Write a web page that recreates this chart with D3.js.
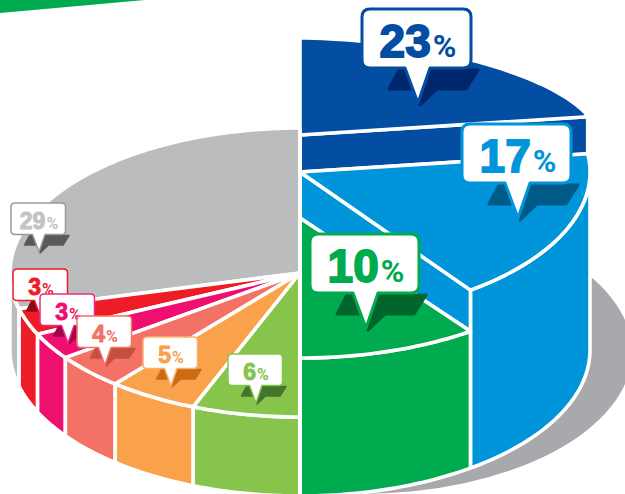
<!DOCTYPE html>
<html>
<head>
<meta charset="utf-8">
<style>
  html, body { margin: 0; padding: 0; background: #fff; }
  svg { display: block; }
</style>
<script src="https://cdn.jsdelivr.net/npm/d3@7"></script>
</head>
<body>
<div id="chart"></div>
<script>
// clockwise from 12 o'clock
const categories = ["navy", "blue", "green", "lime", "orange", "coral", "magenta", "red", "grey"];
const values = [23, 17, 10, 6, 5, 4, 3, 3, 29];

// styles, one per slice
const colors = ["#034ea2", "#0095da", "#00aa4e", "#86c44c", "#faa24b", "#f47265", "#ee0f6f", "#ee1c26", "#bbbcbe"];
const shadows = ["#00266b", "#005a87", "#00662c", "#44752a", "#cc6b11", "#c64f40", "#a3004e", "#8b0a13", "#58595b"];
const borders = ["#034ea2", "#0095da", "#00aa4e", "#86c44c", "#fbb06a", "#f47265", "#ee2a85", "#ee1c26", "#98999b"];
// hub height of each slice, the slices step down clockwise
const hubY = [135, 172, 218, 273, 273, 273, 273, 273, 273];
const frontRy = [146, 146, 140, 144, 144, 144, 144, 144, 145];
// where each callout's pointer lands, and how big it is
const tipX = [418, 518, 366, 256, 171, 105, 68, 41, 39];
const tipY = [103, 218, 328, 403, 386, 365, 343, 318, 252];
const tipScale = [1, 1, 1, 0.5, 0.5, 0.5, 0.5, 0.5, 0.5];

const width = 625, height = 494;
const cx = 300, R = 290;
const baseY = 350, baseRy = 146;
const gap = 3.6;

const svg = d3.select("#chart").append("svg")
    .attr("width", width)
    .attr("height", height);

const line = d3.line();
const pie = d3.pie().sort(null).value(d => d)(values);

function rim(a, y0, ry) {
  return [cx + R * Math.sin(a), y0 - ry * Math.cos(a)];
}

function arcPoints(a0, a1, y0, ry) {
  const n = Math.max(2, Math.ceil(Math.abs(a1 - a0) * 40));
  return d3.range(n + 1).map(i => rim(a0 + (a1 - a0) * i / n, y0, ry));
}

function poly(pts, fill) {
  return svg.append("path")
    .attr("d", line(pts) + "Z")
    .attr("fill", fill)
    .attr("stroke", "#fff")
    .attr("stroke-width", gap)
    .attr("stroke-linejoin", "round");
}

// back of the raised navy slice reads flatter than an ellipse
function flatRim(a) {
  const t = a * 0.9, e = 2 / 1.8;
  return [cx + 297 * Math.pow(Math.sin(t), e), hubY[0] - 97 * Math.pow(Math.cos(t), e)];
}

// green strip cut off by the page corner
svg.append("path")
  .attr("d", line([[0, 0], [145, 0], [0, 13]]) + "Z")
  .attr("fill", "#00aa4e");

// drop shadow behind the pie
svg.append("ellipse")
  .attr("cx", 360).attr("cy", 352)
  .attr("rx", 272).attr("ry", 142)
  .attr("fill", "#a7a9ac");

// grey wall and the low slices on the left
const leftOrder = [8, 7, 6, 5, 4, 3];
const quarter = Math.PI / 2;

poly(arcPoints(pie[8].startAngle, 3 * quarter, hubY[8], frontRy[8])
  .concat(arcPoints(3 * quarter, pie[8].startAngle, baseY, baseRy)), colors[8]);
leftOrder.slice(1).forEach(i => {
  const p = pie[i];
  poly(arcPoints(p.startAngle, p.endAngle, hubY[i], frontRy[i])
    .concat(arcPoints(p.endAngle, p.startAngle, baseY, baseRy)), colors[i]);
});
// grey top: front part to 9 o'clock, then the back half
poly([[cx, hubY[8]]]
  .concat(arcPoints(pie[8].startAngle, pie[8].endAngle, hubY[8], frontRy[8])), colors[8]);
leftOrder.slice(1).forEach(i => {
  const p = pie[i];
  poly([[cx, hubY[i]]].concat(arcPoints(p.startAngle, p.endAngle, hubY[i], frontRy[i])), colors[i]);
});

// navy: cut face, then top
const navyEnd = pie[0].endAngle;
const navyTip = rim(navyEnd, hubY[0], frontRy[0]);
poly([[cx, hubY[0]], navyTip, rim(navyEnd, hubY[1], frontRy[1]), [cx, hubY[1]]], colors[0]);
poly([[cx, hubY[0]]].concat(d3.range(41).map(i => flatRim(navyEnd * i / 40)), [navyTip]), colors[0]);

// blue: wall, cut face, top
const blueEnd = pie[1].endAngle;
poly(arcPoints(quarter, blueEnd, hubY[1], frontRy[1])
  .concat(arcPoints(blueEnd, quarter, baseY, baseRy)), colors[1]);
poly([[cx, hubY[1]], rim(blueEnd, hubY[1], frontRy[1]), rim(blueEnd, hubY[2], frontRy[2]), [cx, hubY[2]]], colors[1]);
poly([[cx, hubY[1]]].concat(arcPoints(pie[1].startAngle, blueEnd, hubY[1], frontRy[1])), colors[1]);

// green: wall, top
poly(arcPoints(pie[2].startAngle, pie[2].endAngle, hubY[2], frontRy[2])
  .concat(arcPoints(pie[2].endAngle, pie[2].startAngle, baseY, baseRy)), colors[2]);
poly([[cx, hubY[2]]].concat(arcPoints(pie[2].startAngle, pie[2].endAngle, hubY[2], frontRy[2])), colors[2]);

// white seam between the left and right halves
svg.append("line")
  .attr("x1", cx).attr("x2", cx)
  .attr("y1", hubY[8] - 145).attr("y2", height)
  .attr("stroke", "#fff")
  .attr("stroke-width", 4);

// callouts
function bubblePath(t) {
  const l = -56, r = 53, b = -35, c = 8;
  return "M" + (l + c) + "," + t +
    "L" + (r - c) + "," + t + "Q" + r + "," + t + " " + r + "," + (t + c) +
    "L" + r + "," + (b - c) + "Q" + r + "," + b + " " + (r - c) + "," + b +
    "L12," + b + "L0,0L-13," + b +
    "L" + (l + c) + "," + b + "Q" + l + "," + b + " " + l + "," + (b - c) +
    "L" + l + "," + (t + c) + "Q" + l + "," + t + " " + (l + c) + "," + t + "Z";
}

const shadowPath = "M-19,-33L60,-33L48,-14L19,-14L2,2L4,-14L-29,-14Z";

const order = [8, 7, 6, 5, 4, 3, 2, 1, 0];
order.forEach(i => {
  const g = svg.append("g")
    .attr("transform", "translate(" + tipX[i] + "," + tipY[i] + ") scale(" + tipScale[i] + ")");

  g.append("path")
    .attr("d", shadowPath)
    .attr("fill", shadows[i])
    .attr("stroke", shadows[i])
    .attr("stroke-width", 3)
    .attr("stroke-linejoin", "round");

  g.append("path")
    .attr("d", bubblePath(tipScale[i] < 1 ? -98 : -94))
    .attr("fill", "#fff")
    .attr("stroke", borders[i])
    .attr("stroke-width", 3)
    .attr("stroke-linejoin", "round");

  const label = g.append("text")
    .attr("x", 0)
    .attr("y", -46)
    .attr("text-anchor", "middle")
    .attr("font-family", "'Liberation Sans', Arial, sans-serif")
    .attr("font-weight", "bold")
    .attr("fill", i === 8 ? "#c2c3c5" : colors[i]);

  label.append("tspan")
    .attr("font-size", 46)
    .attr("stroke", i === 8 ? "#c2c3c5" : colors[i])
    .attr("stroke-width", 1.8)
    .text(values[i]);

  label.append("tspan")
    .attr("font-family", "Roboto, sans-serif")
    .attr("font-size", 32)
    .attr("dx", 2)
    .text("%");
});
</script>
</body>
</html>
